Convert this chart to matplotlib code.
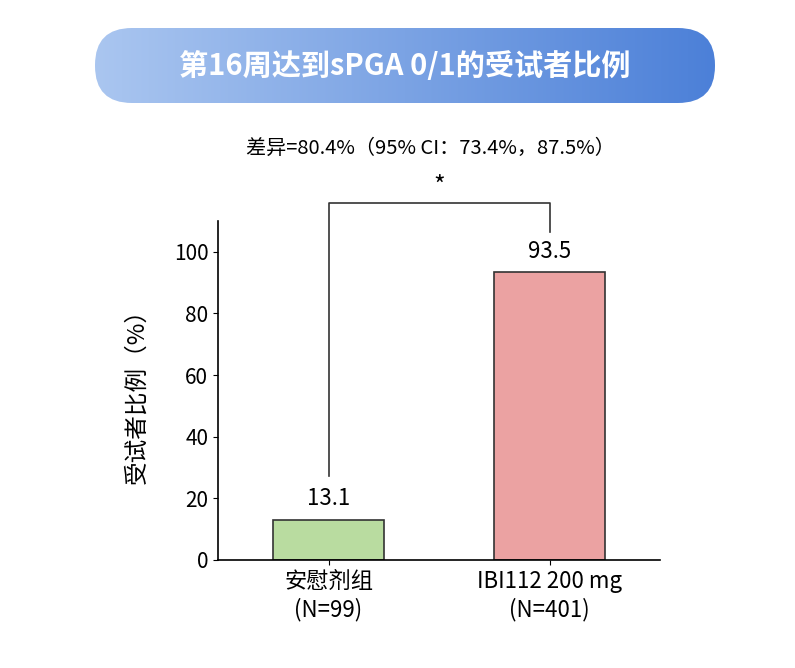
import matplotlib.pyplot as plt
import numpy as np
from matplotlib.patches import FancyBboxPatch

plt.rcParams['font.family'] = ['Noto Sans CJK SC', 'DejaVu Sans']

groups = ['安慰剂组\n(N=99)', 'IBI112 200 mg\n(N=401)']
values = [13.1, 93.5]
colors = ['#b9dca0', '#eba2a2']
title = '第16周达到sPGA 0/1的受试者比例'
diff_text = '差异=80.4%（95% CI：73.4%，87.5%）'

fig = plt.figure(figsize=(7.95, 6.68), dpi=100)

# title banner with gradient
bax = fig.add_axes([95/795, 1-103/668, 620/795, 75/668])
bax.set_xlim(0, 620)
bax.set_ylim(0, 75)
bax.axis('off')
grad = np.linspace(0, 1, 256).reshape(1, -1)
im = bax.imshow(grad, extent=[0, 620, 0, 75], aspect='auto',
                cmap=plt.matplotlib.colors.LinearSegmentedColormap.from_list('b', ['#aac6f0', '#4c80d8']))
box = FancyBboxPatch((0, 0), 620, 75, boxstyle='round,pad=0,rounding_size=37',
                     transform=bax.transData, facecolor='none', edgecolor='none')
bax.add_patch(box)
im.set_clip_path(box)
bax.text(310, 37, title, color='white', fontsize=21, fontweight='bold',
         ha='center', va='center')

ax = fig.add_axes([218/795, 1-560/668, 442/795, 339/668])
x = np.arange(len(values))
ax.bar(x, values, width=0.5, color=colors, edgecolor='#333333', linewidth=1.2)
for xi, v in zip(x, values):
    ax.text(xi, v + 3, f'{v}', ha='center', va='bottom', fontsize=16)
ax.set_xlim(-0.5, 1.5)
ax.set_ylim(0, 110)
ax.set_yticks([0, 20, 40, 60, 80, 100])
ax.set_xticks(x)
ax.set_xticklabels(groups, fontsize=16, linespacing=1.25)
ax.tick_params(axis='y', labelsize=15)
ax.set_ylabel('受试者比例（%）', fontsize=17, labelpad=18)
for s in ['top', 'right']:
    ax.spines[s].set_visible(False)
ax.spines['left'].set_linewidth(1.2)
ax.spines['bottom'].set_linewidth(1.2)

# significance bracket
ax.plot([0, 0, 1, 1], [values[0] + 14, 115.8, 115.8, values[1] + 13],
        color='#333333', lw=1.2, clip_on=False)
ax.text(0.5, 117, '*', ha='center', va='bottom', fontsize=18)
ax.text(0.46, 130, diff_text, ha='center', va='bottom', fontsize=14.5)

fig.savefig('out.png', dpi=100)
